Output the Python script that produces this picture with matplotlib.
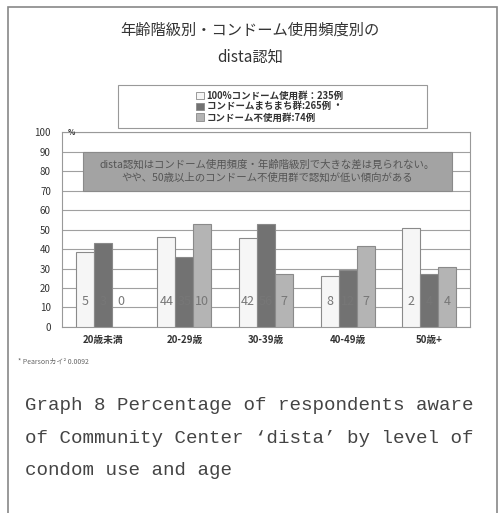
import matplotlib.pyplot as plt
from matplotlib.patches import Rectangle, Patch
import numpy as np

plt.rcParams['font.family'] = ['Noto Sans CJK JP', 'DejaVu Sans']

# データ
age_groups = ["20歳未満", "20-29歳", "30-39歳", "40-49歳", "50歳+"]
series_names = ["100%コンドーム使用群：235例", "コンドームまちまち群:265例 ・", "コンドーム不使用群:74例"]
pct_full_use = [38.5, 46, 45.5, 26, 51]
pct_mixed_use = [43, 36, 53, 29, 27]
pct_no_use = [0, 53, 27, 41.5, 31]
n_full_use = [5, 44, 42, 8, 2]
n_mixed_use = [3, 35, 56, 12, 4]
n_no_use = [0, 10, 7, 7, 4]
y_ticks = [0, 10, 20, 30, 40, 50, 60, 70, 80, 90, 100]

colores = ["#f6f6f6", "#727272", "#b4b4b4"]
borde = "#8a8a8a"

fig = plt.figure(figsize=(5.0, 5.13), dpi=100)
fig.patch.set_facecolor("white")

# marco exterior
fig.patches.append(Rectangle((0.016, -0.01), 0.978, 0.996, transform=fig.transFigure,
                             fill=False, edgecolor="#888888", linewidth=1.2))

ax = fig.add_axes([0.124, 0.3626, 0.816, 0.380])
x = np.arange(len(age_groups))
w = 0.22
valores = [pct_full_use, pct_mixed_use, pct_no_use]
cuentas = [n_full_use, n_mixed_use, n_no_use]
for i in range(3):
    pos = x + (i - 1) * w
    ax.bar(pos, valores[i], width=w, color=colores[i], edgecolor=borde, linewidth=0.8, zorder=3)
    for p, c in zip(pos, cuentas[i]):
        ax.text(p, 13, str(c), ha="center", va="center", fontsize=9, color="#777777", zorder=4)

ax.set_xlim(-0.5, len(age_groups) - 0.5)
ax.set_ylim(0, 100)
ax.set_yticks(y_ticks)
ax.yaxis.grid(True, color="#a0a0a0", linewidth=0.8, zorder=0)
ax.set_xticks(x)
ax.set_xticklabels(age_groups, fontsize=7, fontweight="bold", color="#333333")
ax.tick_params(axis="y", labelsize=7, length=0, labelcolor="#333333", pad=8)
ax.tick_params(axis="x", length=0, pad=6)
for s in ax.spines.values():
    s.set_color("#999999")
    s.set_linewidth(0.8)
ax.text(0.015, 100, "%", fontsize=5.5, fontweight="bold", color="#333333", va="center",
        transform=ax.get_yaxis_transform())

# recuadro de comentario
ax.add_patch(Rectangle((-0.243, 70), 4.52, 20, facecolor="#a3a3a3", edgecolor="#8a8a8a",
                       linewidth=0.8, zorder=5))
ax.text(2.017, 80, "dista認知はコンドーム使用頻度・年齢階級別で大きな差は見られない。\nやや、50歳以上のコンドーム不使用群で認知が低い傾向がある",
        ha="center", va="center", fontsize=7.5, color="#555555", linespacing=1.4, zorder=6)

# título
fig.text(0.5, 0.942, "年齢階級別・コンドーム使用頻度別の", ha="center", va="center", fontsize=11, color="#333333")
fig.text(0.5, 0.889, "dista認知", ha="center", va="center", fontsize=11, color="#333333")

# leyenda
fig.patches.append(Rectangle((0.236, 0.751), 0.618, 0.083, transform=fig.transFigure,
                             fill=False, edgecolor="#999999", linewidth=0.8))
handles = [Patch(facecolor=colores[i], edgecolor=borde, linewidth=0.6) for i in range(3)]
fig.legend(handles, series_names, loc="center", bbox_to_anchor=(0.54, 0.7925), frameon=False,
           handlelength=0.8, handleheight=0.8, handletextpad=0.3, labelspacing=0.1,
           borderpad=0, labelcolor="#333333", prop={"weight": "bold", "size": 6.8})

# nota
fig.text(0.036, 0.294, "* Pearsonカイ² 0.0092", fontsize=5, color="#666666", va="center")

# pie de figura
caption = ["Graph 8 Percentage of respondents aware",
           "of Community Center \u2018dista\u2019 by level of",
           "condom use and age"]
for k, linea in enumerate(caption):
    fig.text(0.05, 0.21 - k * 0.064, linea, fontsize=13.8, color="#444444", va="center",
             family="Liberation Mono")

fig.savefig("out.png", dpi=100)
